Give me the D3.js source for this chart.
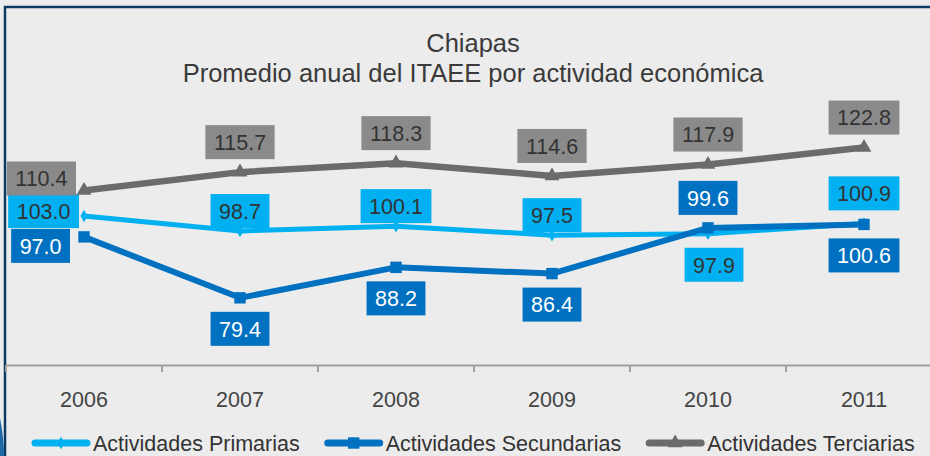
<!DOCTYPE html>
<html>
<head>
<meta charset="utf-8">
<script src="https://cdn.jsdelivr.net/npm/d3@7"></script>
<style>
  body { margin: 0; background: #ececec; }
  svg { display: block; font-family: "Liberation Sans", Arial, sans-serif; }
</style>
</head>
<body>
<script>
// data
const years = ["2006", "2007", "2008", "2009", "2010", "2011"];
const primarias = [103.0, 98.7, 100.1, 97.5, 97.9, 100.9];
const secundarias = [97.0, 79.4, 88.2, 86.4, 99.6, 100.6];
const terciarias = [110.4, 115.7, 118.3, 114.6, 117.9, 122.8];
const seriesNames = ["Actividades Primarias", "Actividades Secundarias", "Actividades Terciarias"];

// where each data label sits
const placePrim = ["left", "over", "over", "over", "below", "above"];
const placeSec = ["belowLeft", "below", "below", "below", "above", "below"];
const placeTer = ["aboveLeft", "above", "above", "above", "above", "above"];

const width = 930, height = 456;

const svg = d3.select("body").append("svg")
    .attr("width", width)
    .attr("height", height);

svg.append("rect")
    .attr("width", width).attr("height", height)
    .attr("fill", "#ececec");

// frame
svg.append("rect")
    .attr("x", 5).attr("y", 7)
    .attr("width", 1000).attr("height", 1000)
    .attr("fill", "none")
    .attr("stroke", "#0d3a63")
    .attr("stroke-width", 2.5);
svg.append("path")
    .attr("d", "M0,418 Q4,438 4,456 L0,456 Z")
    .attr("fill", "#1e6aa8");

// title
const title = svg.append("text")
    .attr("text-anchor", "middle")
    .attr("fill", "#3a3a3a")
    .attr("font-size", 25.5);
title.append("tspan").attr("x", 473).attr("y", 52).text("Chiapas");
title.append("tspan").attr("x", 473).attr("y", 82).text("Promedio anual del ITAEE por actividad económica");

const x = d3.scaleBand().domain(years).range([6, 942]);
const y = d3.scaleLinear().domain([60, 140]).range([365, 88]);
const cx = d => x(d) + x.bandwidth() / 2;

// x axis
const axis = svg.append("g")
    .attr("transform", "translate(0,365)")
    .call(d3.axisBottom(x).tickSize(0).tickPadding(27));
axis.select(".domain").attr("stroke", "#a0a0a0").attr("stroke-width", 2);
axis.selectAll("text")
    .attr("font-size", 21.5)
    .attr("fill", "#444")
    .attr("font-family", "Liberation Sans, Arial, sans-serif");
svg.append("g").selectAll("line")
    .data(d3.range(years.length + 1))
    .enter().append("line")
    .attr("x1", i => 6 + i * x.bandwidth())
    .attr("x2", i => 6 + i * x.bandwidth())
    .attr("y1", 365).attr("y2", 372)
    .attr("stroke", "#a0a0a0")
    .attr("stroke-width", 2);

const series = [
    { name: seriesNames[0], values: primarias, place: placePrim, color: "#00b0f0", boxFill: "#00b0f0", textFill: "#333", width: 5, symbol: d3.symbolDiamond, size: 45 },
    { name: seriesNames[1], values: secundarias, place: placeSec, color: "#0070c0", boxFill: "#0070c0", textFill: "#fff", width: 6, symbol: d3.symbolSquare, size: 130 },
    { name: seriesNames[2], values: terciarias, place: placeTer, color: "#6b6b6b", boxFill: "#8a8a8a", textFill: "#333", width: 6.5, symbol: d3.symbolTriangle, size: 95 }
];

const line = d3.line()
    .x((d, i) => cx(years[i]))
    .y(d => y(d));

// labels first, lines drawn over them
const labels = svg.append("g");
const lines = svg.append("g");

series.forEach(s => {
    lines.append("path")
        .datum(s.values)
        .attr("d", line)
        .attr("fill", "none")
        .attr("stroke", s.color)
        .attr("stroke-width", s.width)
        .attr("stroke-linejoin", "round");

    lines.append("g").selectAll("path")
        .data(s.values)
        .enter().append("path")
        .attr("transform", (d, i) => "translate(" + cx(years[i]) + "," + y(d) + ")")
        .attr("d", d3.symbol().type(s.symbol).size(s.size))
        .attr("fill", s.color);

    s.values.forEach((v, i) => {
        const g = labels.append("g");
        const t = g.append("text")
            .attr("font-size", 21.5)
            .attr("fill", s.textFill)
            .attr("text-anchor", "middle")
            .attr("dy", "0.36em")
            .text(v.toFixed(1));
        const tw = t.node().getComputedTextLength();
        const bw = tw + 17, bh = 34;
        const px = cx(years[i]), py = y(v);
        let bx = px, by = py;
        switch (s.place[i]) {
            case "above": by = py - 13 - bh / 2; break;
            case "over": by = py - 3 - bh / 2; break;
            case "below": by = py + 14 + bh / 2; break;
            case "left": bx = px - 5 - bw / 2; by = py - 5; break;
            case "aboveLeft": bx = px - 8 - bw / 2; by = py - 12; break;
            case "belowLeft": bx = px - 14 - bw / 2; by = py + 9; break;
        }
        // the 2010 label of the first series sits a little to the right
        if (s.values === primarias && i === 4) bx += 6;
        g.attr("transform", "translate(" + bx + "," + by + ")");
        g.insert("rect", "text")
            .attr("x", -bw / 2).attr("y", -bh / 2)
            .attr("width", bw).attr("height", bh)
            .attr("fill", s.boxFill);
    });
});

// legend
const legend = svg.append("g").attr("transform", "translate(0,443)");
let lx = 32;
series.forEach(s => {
    const item = legend.append("g").attr("transform", "translate(" + lx + ",0)");
    item.append("line")
        .attr("x1", 3).attr("x2", 55)
        .attr("stroke", s.color)
        .attr("stroke-width", 7)
        .attr("stroke-linecap", "round");
    item.append("path")
        .attr("transform", "translate(29,0)")
        .attr("d", d3.symbol().type(s.symbol).size(s.size))
        .attr("fill", s.color);
    const t = item.append("text")
        .attr("x", 61)
        .attr("dy", "0.36em")
        .attr("font-size", 21.5)
        .attr("fill", "#333")
        .text(s.name);
    lx += 61 + t.node().getComputedTextLength() + 25;
});
</script>
</body>
</html>
